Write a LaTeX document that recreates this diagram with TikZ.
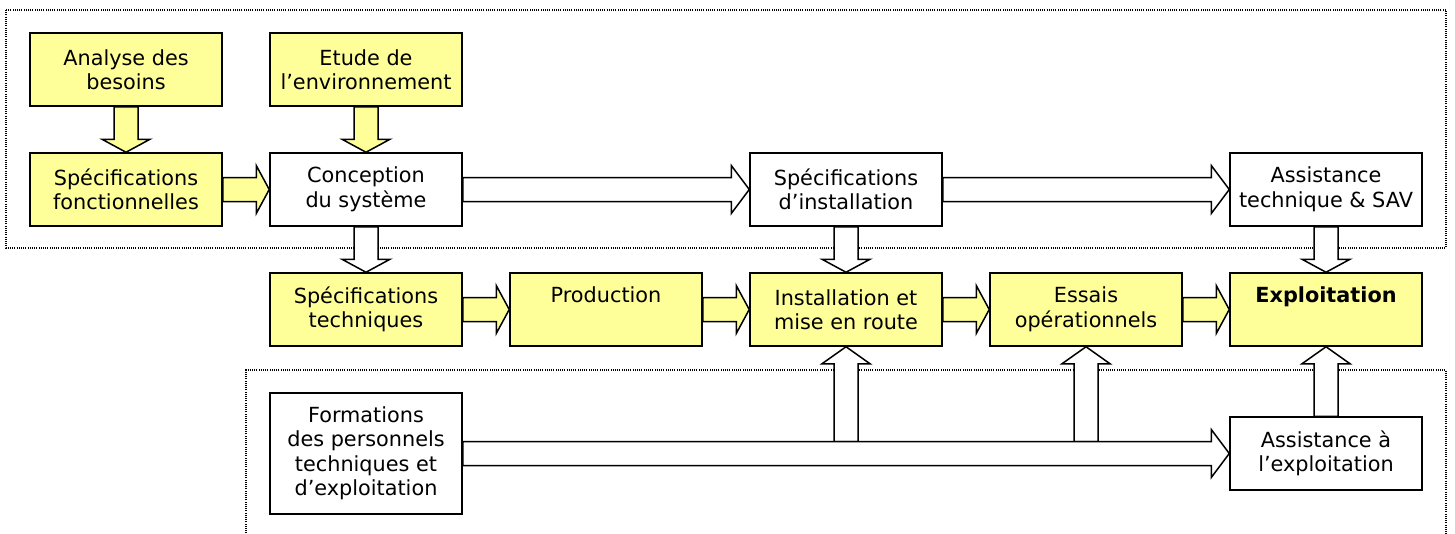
\documentclass[tikz,border=0pt]{standalone}
\usepackage{fontspec}
\setmainfont{DejaVu Sans}
\usetikzlibrary{calc}
\definecolor{boxyellow}{HTML}{FFFF99}
\pgfdeclarelayer{frlayer}
\pgfdeclarelayer{arlayer}
\pgfsetlayers{frlayer,arlayer,main}
\tikzset{
 box/.style={draw, line width=1.5pt, minimum width=192pt, minimum height=73pt, inner sep=0pt, align=center, font=\fontsize{20.8}{24.5}\selectfont},
 ybox/.style={box, fill=boxyellow},
 wbox/.style={box, fill=white},
 frame/.style={line width=1.1pt, dash pattern=on 1pt off 1.2pt, draw=black}
}
\newcommand\barrow[4][13pt]{%
 \coordinate (hb) at ($(#4)!#1!(#3)$);
 \draw[line width=1.5pt, fill=#2, line join=miter] ($(#3)!12pt!90:(#4)$) -- ($(hb)!12pt!90:(#4)$) -- ($(hb)!24pt!90:(#4)$) -- (#4) -- ($(hb)!24pt!-90:(#4)$) -- ($(hb)!12pt!-90:(#4)$) -- ($(#3)!12pt!-90:(#4)$) -- cycle;
}
\begin{document}
\begin{tikzpicture}[x=1pt,y=-1pt]
\begin{pgfonlayer}{frlayer}
\useasboundingbox[fill=white] (0,0) rectangle (1455,533);
\draw[frame] (6,10) rectangle (1446,248);
\draw[frame] (246,540) -- (246,370) -- (1446,370) -- (1446,540);
\end{pgfonlayer}
\path
 (126,69.5) node[ybox] (ab) {Analyse des\\besoins}
 (366,69.5) node[ybox] (et) {Etude de\\l’environnement}
 (126,189.5) node[ybox] (sf) {Spécifications\\fonctionnelles}
 (366,189.5) node[wbox] (co) {Conception\\du système}
 (846,189.5) node[wbox] (si) {Spécifications\\d’installation}
 (1326,189.5) node[wbox] (at) {Assistance\\technique \& SAV}
 (366,309.5) node[ybox] (st) {Spécifications\\techniques}
 (606,309.5) node[ybox] (pr) {Production\\\vphantom{techniques}}
 (846,309.5) node[ybox] (in) {Installation et\\mise en route}
 (1086,309.5) node[ybox] (es) {Essais\\opérationnels}
 (1326,309.5) node[ybox] (ex) {\bfseries Exploitation\\\vphantom{techniques}}
 (366,453.5) node[wbox, minimum height=121pt] (fo) {Formations\\des personnels\\techniques et\\d’exploitation}
 (1326,453.5) node[wbox] (ae) {Assistance à\\l’exploitation};
\coordinate (j1) at ($(in.south |- fo.east)+(0,-12)$);
\coordinate (j2) at ($(es.south |- fo.east)+(0,-12)$);
\begin{pgfonlayer}{arlayer}
\barrow{boxyellow}{ab.south}{sf.north}
\barrow{boxyellow}{et.south}{co.north}
\barrow{boxyellow}{sf.east}{co.west}
\barrow[18pt]{white}{co.east}{si.west}
\barrow[18pt]{white}{si.east}{at.west}
\barrow{white}{co.south}{st.north}
\barrow{white}{si.south}{in.north}
\barrow{white}{at.south}{ex.north}
\barrow{boxyellow}{st.east}{pr.west}
\barrow{boxyellow}{pr.east}{in.west}
\barrow{boxyellow}{in.east}{es.west}
\barrow{boxyellow}{es.east}{ex.west}
\barrow[17pt]{white}{j1}{in.south}
\barrow[17pt]{white}{j2}{es.south}
\barrow[18pt]{white}{fo.east}{ae.west}
\barrow[17pt]{white}{ae.north}{ex.south}
\end{pgfonlayer}
\end{tikzpicture}
\end{document}
